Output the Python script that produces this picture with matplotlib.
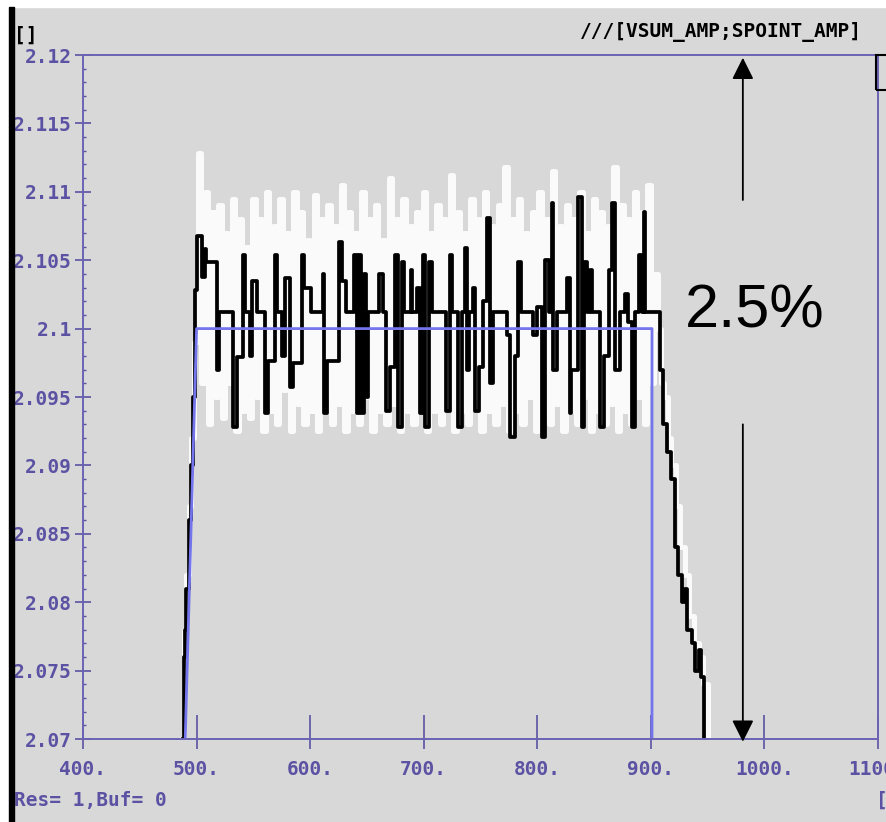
import numpy as np
import matplotlib
matplotlib.use("Agg")
import matplotlib.pyplot as plt
from matplotlib.patches import Rectangle

# setpoint (SPOINT_AMP)
spoint_x = [490, 500, 901, 901]
spoint_y = [2.07, 2.1, 2.1, 2.07]

# measured amplitude (VSUM_AMP), step trace
vsum_x = [488, 489, 490, 491, 493, 495, 497, 499,
          500, 505, 507, 508, 518, 520, 532, 536, 541, 543, 547, 549,
          553, 560, 563, 569, 571, 575, 578, 582, 585, 593, 595, 601,
          611, 612, 615, 625, 628, 632, 639, 641, 643, 645, 647, 649,
          651, 661, 664, 667, 670, 675, 677, 681, 683, 689, 690, 694,
          697, 699, 701, 705, 707, 720, 723, 725, 730, 734, 736, 738,
          740, 743, 745, 749, 752, 756, 758, 761, 773, 776, 780, 783,
          786, 796, 800, 804, 807, 810, 813, 814, 817, 826, 829, 830,
          836, 839, 841, 844, 846, 848, 855, 859, 863, 866, 868, 873,
          877, 880, 883, 886, 890, 892, 894, 895, 908, 911, 914, 918,
          921, 924, 927, 930, 932, 936, 939, 942, 944, 947]
vsum_y = [2.0700, 2.0760, 2.0780, 2.0810, 2.0860, 2.0900, 2.0950, 2.1028,
          2.1068, 2.1038, 2.1058, 2.1049, 2.0970, 2.1012, 2.0928, 2.0979, 2.1054, 2.1012, 2.0980, 2.1035,
          2.1012, 2.0938, 2.0976, 2.1054, 2.1012, 2.0980, 2.1037, 2.0957, 2.0975, 2.1054, 2.1030, 2.1012,
          2.1040, 2.0938, 2.0976, 2.1063, 2.1035, 2.1012, 2.1054, 2.0938, 2.1054, 2.0938, 2.1040, 2.0950,
          2.1012, 2.1040, 2.1012, 2.0940, 2.0972, 2.1054, 2.0928, 2.1049, 2.1012, 2.1043, 2.1012, 2.1030,
          2.0938, 2.1054, 2.0928, 2.1049, 2.1012, 2.0940, 2.1054, 2.1012, 2.0928, 2.1012, 2.1059, 2.0970,
          2.1012, 2.1030, 2.0940, 2.0972, 2.1020, 2.1081, 2.0960, 2.1012, 2.0995, 2.0921, 2.0980, 2.1049,
          2.1012, 2.0995, 2.1016, 2.0921, 2.1050, 2.1012, 2.1092, 2.0970, 2.1012, 2.1037, 2.0938, 2.0970,
          2.1096, 2.0928, 2.1049, 2.1012, 2.1043, 2.1012, 2.0928, 2.0980, 2.1043, 2.1092, 2.0970, 2.1012,
          2.1025, 2.1005, 2.0928, 2.1012, 2.1054, 2.1012, 2.1085, 2.1012, 2.0970, 2.0930, 2.0910, 2.0890,
          2.0840, 2.0820, 2.0800, 2.0810, 2.0780, 2.0770, 2.0750, 2.0765, 2.0745, 2.0700]

# white background trace (raw)
ramp_x = [487, 489, 491, 493, 495]
ramp_y = [2.0700, 2.0780, 2.0820, 2.0870, 2.0920]
raw_y = [
    2.0990, 2.1128, 2.0960, 2.1100, 2.0930, 2.1085, 2.0950, 2.1090, 2.0935, 2.1070,
    2.0960, 2.1095, 2.0925, 2.1080, 2.0940, 2.1060, 2.0935, 2.1095, 2.0950, 2.1080,
    2.0925, 2.1100, 2.0940, 2.1075, 2.0930, 2.1095, 2.0955, 2.1070, 2.0925, 2.1100,
    2.0945, 2.1085, 2.0930, 2.1065, 2.0940, 2.1098, 2.0925, 2.1080, 2.0950, 2.1090,
    2.0930, 2.1075, 2.0945, 2.1105, 2.0925, 2.1085, 2.0940, 2.1070, 2.0930, 2.1100,
    2.0950, 2.1080, 2.0925, 2.1090, 2.0940, 2.1065, 2.0930, 2.1110, 2.0945, 2.1080,
    2.0925, 2.1095, 2.0940, 2.1075, 2.0930, 2.1085, 2.0950, 2.1100, 2.0925, 2.1070,
    2.0940, 2.1090, 2.0930, 2.1080, 2.0945, 2.1112, 2.0925, 2.1085, 2.0940, 2.1070,
    2.0930, 2.1095, 2.0950, 2.1080, 2.0925, 2.1100, 2.0940, 2.1075, 2.0930, 2.1090,
    2.0945, 2.1118, 2.0925, 2.1080, 2.0940, 2.1095, 2.0930, 2.1070, 2.0950, 2.1085,
    2.0925, 2.1100, 2.0940, 2.1080, 2.0930, 2.1115, 2.0945, 2.1075, 2.0925, 2.1090,
    2.0940, 2.1080, 2.0930, 2.1100, 2.0950, 2.1070, 2.0925, 2.1095, 2.0940, 2.1085,
    2.0930, 2.1075, 2.0945, 2.1118, 2.0925, 2.1090, 2.0940, 2.1080, 2.0930, 2.1100,
    2.0950, 2.1085, 2.0930, 2.1105, 2.0960, 2.1040]
decay_x = [906, 909, 912, 915, 918, 922, 926, 930, 934, 938, 942, 946, 950]
decay_y = [2.1000, 2.0960, 2.0950, 2.0920, 2.0900, 2.0870, 2.0840, 2.0820,
           2.0790, 2.0770, 2.0760, 2.0740, 2.0700]

x_ticks = [400, 500, 600, 700, 800, 900, 1000, 1100]
y_ticks = [2.07, 2.075, 2.08, 2.085, 2.09, 2.095, 2.1, 2.105, 2.11, 2.115, 2.12]

purple = "#5b52a3"
bg = "#d8d8d8"
mono = {"family": "DejaVu Sans Mono", "weight": "bold", "size": 14}

fig = plt.figure(figsize=(8.86, 8.22), dpi=100, facecolor=bg)
ax = fig.add_axes([83 / 886, 1 - 739 / 822, 795 / 886, 684 / 822])
ax.set_facecolor(bg)

raw_x = np.concatenate([ramp_x, np.arange(498, 904, 3), decay_x])
raw_all = np.concatenate([ramp_y, raw_y, decay_y])
ax.plot(raw_x, raw_all, color="#fafafa", lw=3.6, drawstyle="steps-post")
ax.plot(vsum_x, vsum_y, color="black", lw=2.7, drawstyle="steps-post")
ax.plot(spoint_x, spoint_y, color="#7474ec", lw=2.0)

ax.set_xlim(400, 1100)
ax.set_ylim(2.07, 2.12)
for s in ax.spines.values():
    s.set_color("#6a63b5")
    s.set_linewidth(1.4)

ax.set_xticks(x_ticks)
ax.set_xticklabels([f"{v}." for v in x_ticks], fontdict=mono, color=purple)
ax.set_xticks(x_ticks, minor=True)
ax.xaxis.remove_overlapping_locs = False
ax.tick_params(axis="x", which="major", direction="in", length=17, width=1.2,
               color=purple, pad=15)
ax.tick_params(axis="x", which="minor", direction="out", length=7, width=1.2,
               color=purple)
ax.set_yticks(y_ticks)
ax.set_yticklabels([f"{v:g}" for v in y_ticks], fontdict=mono, color=purple)
ax.set_yticks(np.arange(2.071, 2.12, 0.001), minor=True)
ax.tick_params(axis="y", which="major", direction="inout", length=12, width=1.2,
               color=purple, pad=2)
ax.tick_params(axis="y", which="minor", direction="in", length=2, width=1,
               color=purple)

# 2.5% annotation
arrow = dict(arrowstyle="-|>,head_length=0.6,head_width=0.3", color="black",
             lw=1.3, mutation_scale=22, shrinkA=0, shrinkB=0)
ax.annotate("", xy=(981, 2.1198), xytext=(981, 2.1094), arrowprops=arrow,
            annotation_clip=False)
ax.annotate("", xy=(981, 2.0698), xytext=(981, 2.093), arrowprops=arrow,
            annotation_clip=False)
ax.text(991.5, 2.1012, "2.5%", fontsize=44, family="Liberation Sans",
        ha="center", va="center", color="black")

# window chrome
fig.patches.append(Rectangle((0, 0), 9 / 886, 1, transform=fig.transFigure,
                             color="white", zorder=0))
fig.patches.append(Rectangle((0, 1 - 7 / 822), 1, 7 / 822, transform=fig.transFigure,
                             color="white", zorder=0))
fig.patches.append(Rectangle((9 / 886, 0), 5 / 886, 1 - 7 / 822, transform=fig.transFigure,
                             color="black", zorder=5))
fig.patches.append(Rectangle((876 / 886, 1 - 90 / 822), 0.03, 35 / 822,
                             transform=fig.transFigure, facecolor="none",
                             edgecolor="black", lw=1.5, zorder=5))

fig.text(14 / 886, 1 - 35 / 822, "[]", fontdict=mono, color="black", va="center")
fig.text(862 / 886, 1 - 32 / 822, "///[VSUM_AMP;SPOINT_AMP]", fontdict=mono,
         color="black", ha="right", va="center")
fig.text(14 / 886, 1 - 800 / 822, "Res= 1,Buf= 0", fontdict=mono, color=purple,
         va="center")
fig.text(876 / 886, 1 - 800 / 822, "[", fontdict=mono, color=purple, va="center")

fig.savefig("out.png", dpi=100, facecolor=bg)
